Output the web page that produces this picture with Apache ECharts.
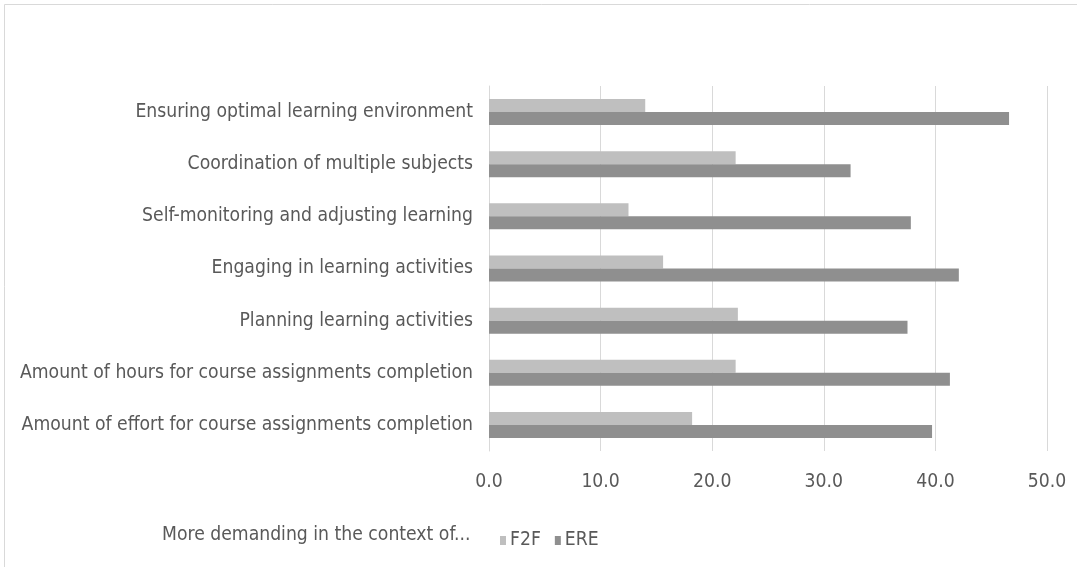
<!DOCTYPE html>
<html><head><meta charset="utf-8">
<script src="https://cdn.jsdelivr.net/npm/echarts@6/dist/echarts.min.js"></script>
<style>html,body{margin:0;padding:0;background:#fff}#c{width:1077px;height:567px}</style>
</head><body><div id="c"></div>
<script>
const categories = [
  "Ensuring optimal learning environment",
  "Coordination of multiple subjects",
  "Self-monitoring and adjusting learning",
  "Engaging in learning activities",
  "Planning learning activities",
  "Amount of hours for course assignments completion",
  "Amount of effort for course assignments completion"
];
const f2f = [14.0, 22.1, 12.5, 15.6, 22.3, 22.1, 18.2];
const ere = [46.6, 32.4, 37.8, 42.1, 37.5, 41.3, 39.7];
const legendTitle = "More demanding in the context of...";
const FONT = "DejaVu Sans Condensed";
const FS = 19.2;
const chart = echarts.init(document.getElementById('c'));
chart.setOption({
  animation: false,
  textStyle: {fontFamily: FONT},
  graphic: [
    {type: 'rect', shape: {x: 4.5, y: 4.5, width: 1080, height: 600}, style: {fill: 'none', stroke: '#d9d9d9', lineWidth: 1}, silent: true},
    {type: 'text', left: 162, top: 526, style: {text: legendTitle, font: FS + 'px "DejaVu Sans Condensed"', fill: '#595959'}}
  ],
  grid: {left: 489, right: 30, top: 86, bottom: 116, containLabel: false},
  legend: {
    left: 495, top: 526, itemWidth: 6, itemHeight: 9, itemGap: 14,
    icon: 'rect',
    textStyle: {fontFamily: FONT, fontSize: FS, color: '#595959', padding: [0, 0, 0, -1]},
    data: ['F2F', 'ERE']
  },
  xAxis: {
    type: 'value', min: 0, max: 50, interval: 10,
    axisLabel: {formatter: v => v.toFixed(1), fontSize: FS, color: '#595959', margin: 22, fontFamily: FONT},
    splitLine: {lineStyle: {color: '#d9d9d9', width: 1}},
    axisLine: {show: false}, axisTick: {show: false}
  },
  yAxis: {
    type: 'category', data: categories, inverse: true,
    axisLabel: {fontSize: FS, color: '#595959', margin: 16, fontFamily: FONT},
    axisLine: {show: true, lineStyle: {color: '#d9d9d9'}}, axisTick: {show: false}
  },
  series: [
    {name: 'F2F', type: 'bar', data: f2f, barWidth: 13, barGap: '0%', itemStyle: {color: '#bfbfbf'}},
    {name: 'ERE', type: 'bar', data: ere, barWidth: 13, barGap: '0%', itemStyle: {color: '#8f8f8f'}}
  ]
});
</script></body></html>
